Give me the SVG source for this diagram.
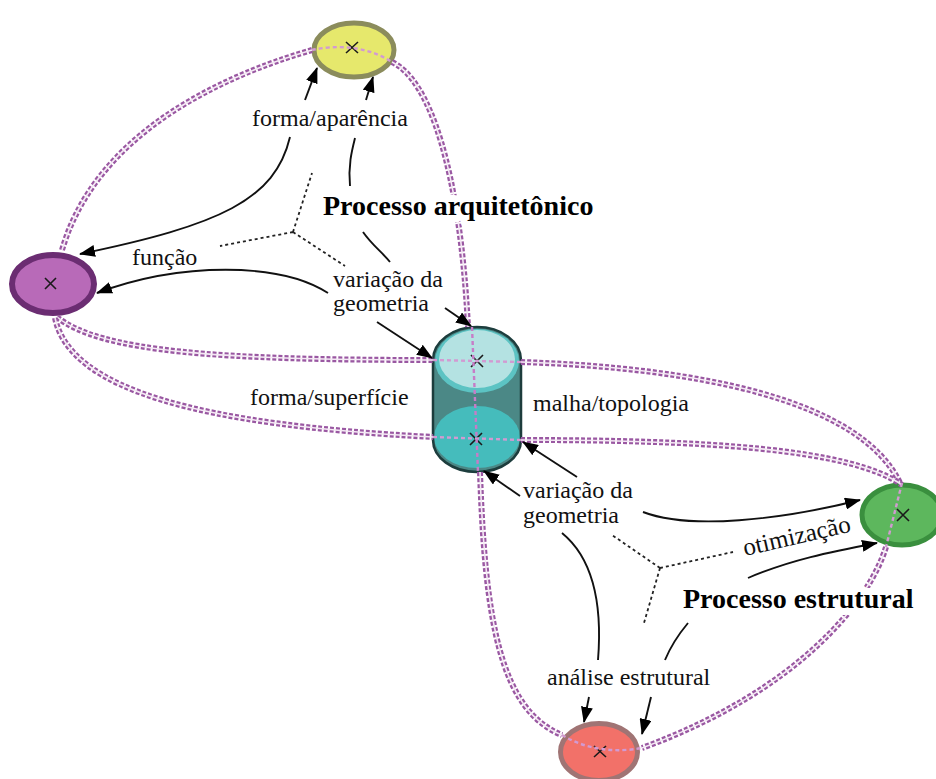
<svg xmlns="http://www.w3.org/2000/svg" xmlns:xlink="http://www.w3.org/1999/xlink" width="936" height="779" viewBox="0 0 936 779">
<style>
  .pd{fill:none;stroke:#9a58a2;stroke-width:6;stroke-dasharray:4 2}
  .pw{fill:none;stroke:#f4e8f4;stroke-width:1.6}
  .pk{fill:none;stroke:#d29ad2;stroke-width:2.4;stroke-dasharray:4 3}
  .ar{fill:none;stroke:#111;stroke-width:1.9}
  .dt{fill:none;stroke:#222;stroke-width:1.8;stroke-dasharray:3 3}
  .xm{fill:none;stroke:#1a1a1a;stroke-width:1.6}
  .t{font-family:"Liberation Serif","Times New Roman",serif;font-size:24px;fill:#111}
  .b{font-family:"Liberation Serif","Times New Roman",serif;font-size:28px;font-weight:bold;fill:#000;stroke:#fff;stroke-width:14px;stroke-linejoin:round;paint-order:stroke}
</style>
<defs>
  <marker id="ah" viewBox="0 0 16 12" refX="15" refY="6" markerWidth="16" markerHeight="12" markerUnits="userSpaceOnUse" orient="auto">
    <path d="M0,0 L16,6 L0,12 z" fill="#000"/>
  </marker>
  <path id="p1" d="M312,50 C250,68 100,120 62,250"/>
  <path id="p2" d="M392,62 C430,80 460,170 468,327"/>
  <path id="p3" d="M480,472 C485,620 500,710 562,735"/>
  <path id="p4" d="M57,317 C100,352 220,360 433,360"/>
  <path id="p5" d="M55,318 C70,390 200,425 433,437"/>
  <path id="p6" d="M521,362 C700,368 860,400 900,483"/>
  <path id="p7" d="M521,440 C700,440 850,448 902,485"/>
  <path id="p8" d="M886,547 C870,600 800,690 642,748"/>
</defs>
<rect width="936" height="779" fill="#fff"/>

<g id="node-forma">
  <ellipse cx="354" cy="50" rx="40" ry="27" fill="#e6e86c" stroke="#8b8c5c" stroke-width="5"/>
  <path class="xm" d="M346,42 L358,53 M358,42 L346,53"/>
</g>
<g id="node-funcao">
  <ellipse cx="53" cy="284" rx="41" ry="29" fill="#b86ab8" stroke="#6b2d72" stroke-width="6"/>
  <path class="xm" d="M45,278 L56,289 M56,278 L45,289"/>
</g>
<g id="node-malha">
  <path d="M433,360 A44,33 0 0 1 521,360 L521,440 A44,32 0 0 1 433,440 Z" fill="#4b8886"/>
  <ellipse cx="477" cy="361" rx="42" ry="32" fill="#5cc3c3"/>
  <ellipse cx="477" cy="359" rx="38" ry="29" fill="#b4e2e2"/>
  <ellipse cx="477" cy="437" rx="43" ry="31" fill="#45bcbc"/>
  <path d="M433,360 A44,33 0 0 1 521,360 L521,440 A44,32 0 0 1 433,440 Z" fill="none" stroke="#1d3d3d" stroke-width="2.5"/>
  <path class="xm" d="M471,355 L483,367 M483,355 L471,367"/>
  <path class="xm" d="M470,433 L482,445 M482,433 L470,445"/>
</g>
<g id="node-otimizacao">
  <ellipse cx="902" cy="515" rx="40" ry="30" fill="#5db75d" stroke="#3a8f3e" stroke-width="5"/>
  <path class="xm" d="M897,509 L909,521 M909,509 L897,521"/>
</g>
<g id="node-analise">
  <ellipse cx="599" cy="752" rx="38.5" ry="28.5" fill="#f27169" stroke="#a07474" stroke-width="5"/>
  <path class="xm" d="M594,746 L606,757 M606,746 L594,757"/>
</g>

<g id="connectors">
  <use href="#p1" class="pd"/><use href="#p1" class="pw"/>
  <use href="#p2" class="pd"/><use href="#p2" class="pw"/>
  <use href="#p3" class="pd"/><use href="#p3" class="pw"/>
  <use href="#p4" class="pd"/><use href="#p4" class="pw"/>
  <use href="#p5" class="pd"/><use href="#p5" class="pw"/>
  <use href="#p6" class="pd"/><use href="#p6" class="pw"/>
  <use href="#p7" class="pd"/><use href="#p7" class="pw"/>
  <use href="#p8" class="pd"/><use href="#p8" class="pw"/>
  <path class="pk" d="M312,50 C335,45 365,45 392,62"/>
  <path class="pk" d="M433,360 L521,362"/>
  <path class="pk" d="M433,437 L521,440"/>
  <path class="pk" d="M472,327 L478,472" style="stroke:#c77cc7"/>
  <path class="pk" d="M902,483 L886,547"/>
  <path class="pk" d="M562,735 C590,752 620,752 642,748"/>

  <path class="ar" d="M290,137 C275,200 220,225 80,254" marker-end="url(#ah)"/>
  <path class="ar" d="M305,100 L317,68" marker-end="url(#ah)"/>
  <path class="ar" d="M366,100 L373,77" marker-end="url(#ah)"/>
  <path class="ar" d="M350,186 C348,165 352,150 355,138"/>
  <path class="ar" d="M363,232 C372,245 382,252 390,262"/>
  <path class="ar" d="M328,293 C280,262 180,262 97,293" marker-end="url(#ah)"/>
  <path class="ar" d="M445,308 L471,326" marker-end="url(#ah)"/>
  <path class="ar" d="M377,322 L432,358" marker-end="url(#ah)"/>
  <path class="ar" d="M577,477 L523,442" marker-end="url(#ah)"/>
  <path class="ar" d="M520,496 L484,471" marker-end="url(#ah)"/>
  <path class="ar" d="M643,512 C690,530 780,520 860,500" marker-end="url(#ah)"/>
  <path class="ar" d="M748,578 C790,560 830,552 877,543" marker-end="url(#ah)"/>
  <path class="ar" d="M562,533 C595,560 602,610 598,660"/>
  <path class="ar" d="M688,623 C678,635 670,648 665,660"/>
  <path class="ar" d="M589,697 L584,722" marker-end="url(#ah)"/>
  <path class="ar" d="M651,697 L642,734" marker-end="url(#ah)"/>

  <path class="dt" d="M293,232 L312,173 M293,232 L220,246 M293,232 L345,266"/>
  <path class="dt" d="M660,568 L612,535 M660,568 L733,552 M660,568 L644,623"/>
</g>

<g id="labels">
  <text class="t" x="252" y="126">forma/aparência</text>
  <text class="b" x="323" y="215">Processo arquitetônico</text>
  <text class="t" x="132" y="265">função</text>
  <text class="t" x="333" y="287">variação da</text>
  <text class="t" x="333" y="311">geometria</text>
  <text class="t" x="250" y="405">forma/superfície</text>
  <text class="t" x="533" y="411">malha/topologia</text>
  <text class="t" x="523" y="498">variação da</text>
  <text class="t" x="523" y="523">geometria</text>
  <text class="t" x="745" y="556" transform="rotate(-13 745 556)" style="font-size:25px">otimização</text>
  <text class="b" x="683" y="608">Processo estrutural</text>
  <text class="t" x="547" y="685">análise estrutural</text>
</g>
</svg>
